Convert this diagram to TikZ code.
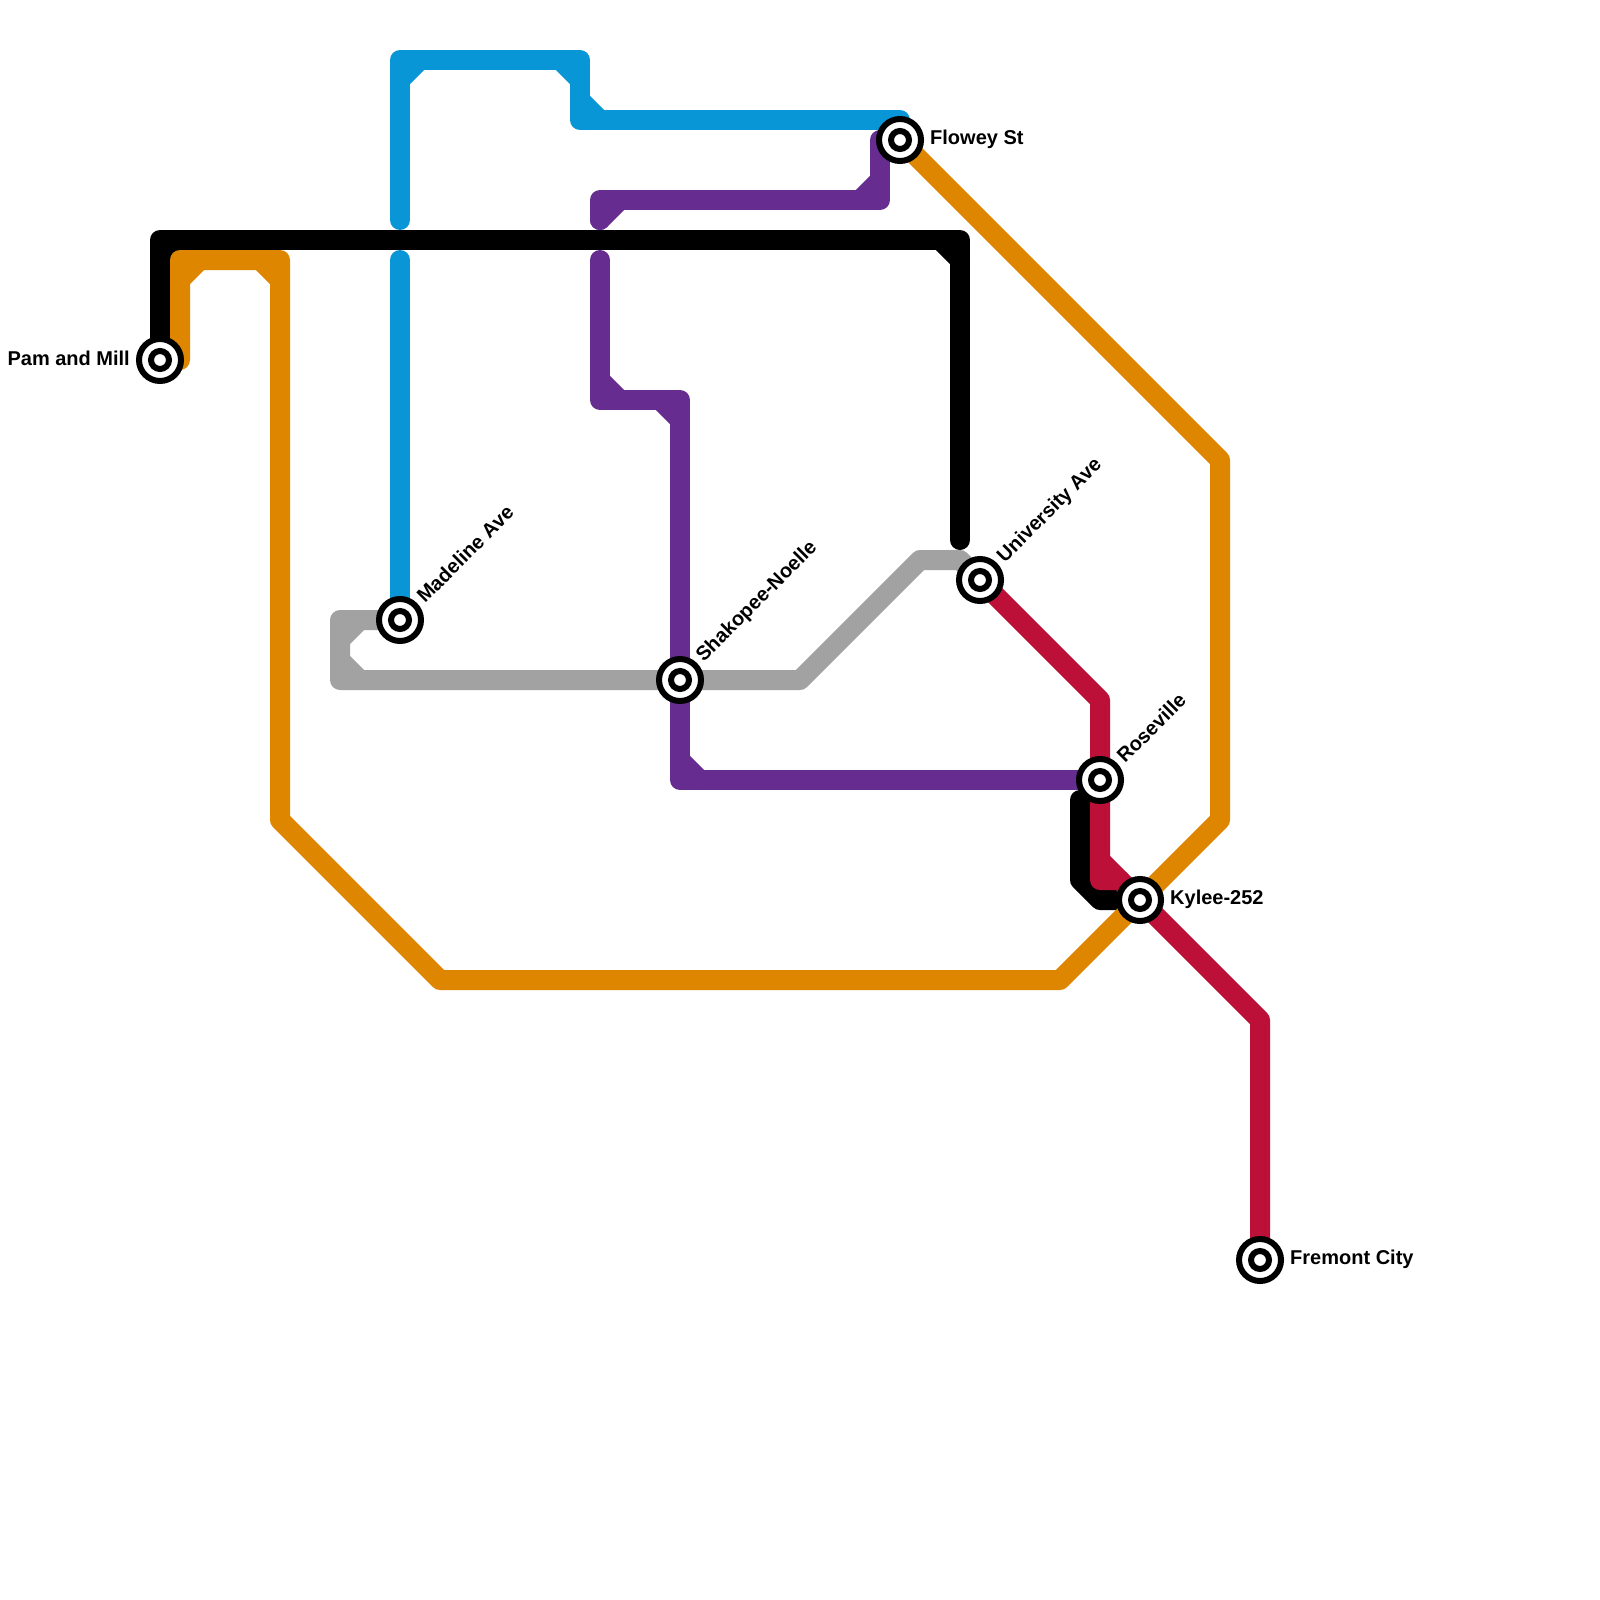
\documentclass[tikz,border=0pt]{standalone}
\usepackage{fontspec}
\setmainfont{Liberation Sans}
\definecolor{mblue}{HTML}{0896D7}
\definecolor{morange}{HTML}{DF8600}
\definecolor{mpurple}{HTML}{662C90}
\definecolor{mgrey}{HTML}{A2A2A2}
\definecolor{mred}{HTML}{BD1038}
\tikzset{
  metro/.style={line width=20pt,line cap=round,line join=round},
  stnouter/.style={circle,draw=black,fill=white,line width=6pt,minimum size=42pt,inner sep=0pt,outer sep=0pt},
  stninner/.style={circle,draw=black,fill=white,line width=6pt,minimum size=18pt,inner sep=0pt,outer sep=0pt},
  lab/.style={font=\fontsize{20}{24}\selectfont\bfseries,inner sep=0pt,text=black}
}
\newcommand{\stationmark}[2]{\node[stnouter] (#1) at (#2) {};\node[stninner] (#1in) at (#2) {};}
\begin{document}
\begin{tikzpicture}[x=1pt,y=-1pt]
\useasboundingbox (0,0) rectangle (1600,1600);
\coordinate (cPam) at (160,360);
\coordinate (cMad) at (400,620);
\coordinate (cSha) at (680,680);
\coordinate (cFlo) at (900,140);
\coordinate (cUni) at (980,580);
\coordinate (cRos) at (1100,780);
\coordinate (cKyl) at (1140,900);
\coordinate (cFre) at (1260,1260);
% black
\draw[metro,black] (cPam) -- (160,240) -- (960,240) -- (960,540);
\draw[metro,black] (160,260) -- (180,240);
\draw[metro,black] (940,240) -- (960,260);
\draw[metro,black] (1080,800) -- (1080,880) -- (1100,900) -- (cKyl);
% orange
\draw[metro,morange] (180,360) -- (180,260) -- (280,260) -- (280,820) -- (440,980) -- (1060,980) -- (cKyl) -- (1220,820) -- (1220,460) -- (cFlo);
\draw[metro,morange] (180,280) -- (200,260);
\draw[metro,morange] (260,260) -- (280,280);
% blue
\draw[metro,mblue] (400,220) -- (400,60) -- (580,60) -- (580,120) -- (900,120) -- (cFlo);
\draw[metro,mblue] (400,80) -- (420,60);
\draw[metro,mblue] (560,60) -- (580,80);
\draw[metro,mblue] (580,100) -- (600,120);
\draw[metro,mblue] (400,260) -- (cMad);
% purple
\draw[metro,mpurple] (600,220) -- (600,200) -- (880,200) -- (880,140);
\draw[metro,mpurple] (600,220) -- (620,200);
\draw[metro,mpurple] (860,200) -- (880,180);
\draw[metro,mpurple] (600,260) -- (600,400) -- (680,400) -- (680,780) -- (cRos);
\draw[metro,mpurple] (600,380) -- (620,400);
\draw[metro,mpurple] (660,400) -- (680,420);
\draw[metro,mpurple] (680,760) -- (700,780);
% grey
\draw[metro,mgrey] (cMad) -- (340,620) -- (340,680) -- (800,680) -- (920,560) -- (960,560) -- (cUni);
\draw[metro,mgrey] (340,640) -- (360,620);
\draw[metro,mgrey] (340,660) -- (360,680);
% red
\draw[metro,mred] (cUni) -- (1100,700) -- (1100,880) -- (1120,880);
\draw[metro,mred] (1100,860) -- (cKyl) -- (1260,1020) -- (cFre);
% stations
\stationmark{pam}{cPam}
\stationmark{mad}{cMad}
\stationmark{sha}{cSha}
\stationmark{flo}{cFlo}
\stationmark{uni}{cUni}
\stationmark{ros}{cRos}
\stationmark{kyl}{cKyl}
\stationmark{fre}{cFre}
% labels
\node[lab,anchor=east] (lPam) at (130,358) {Pam and Mill};
\node[lab,anchor=west] (lFlo) at (930,139) {Flowey St};
\node[lab,anchor=west] (lKyl) at (1170,899) {Kylee-252};
\node[lab,anchor=west] (lFre) at (1290,1259) {Fremont City};
\node[lab,anchor=west,rotate=45] (lMad) at (420,599) {Madeline Ave};
\node[lab,anchor=west,rotate=45] (lSha) at (700,659) {Shakopee-Noelle};
\node[lab,anchor=west,rotate=45] (lUni) at (1001,560) {University Ave};
\node[lab,anchor=west,rotate=45] (lRos) at (1120,759) {Roseville};
\end{tikzpicture}
\end{document}
